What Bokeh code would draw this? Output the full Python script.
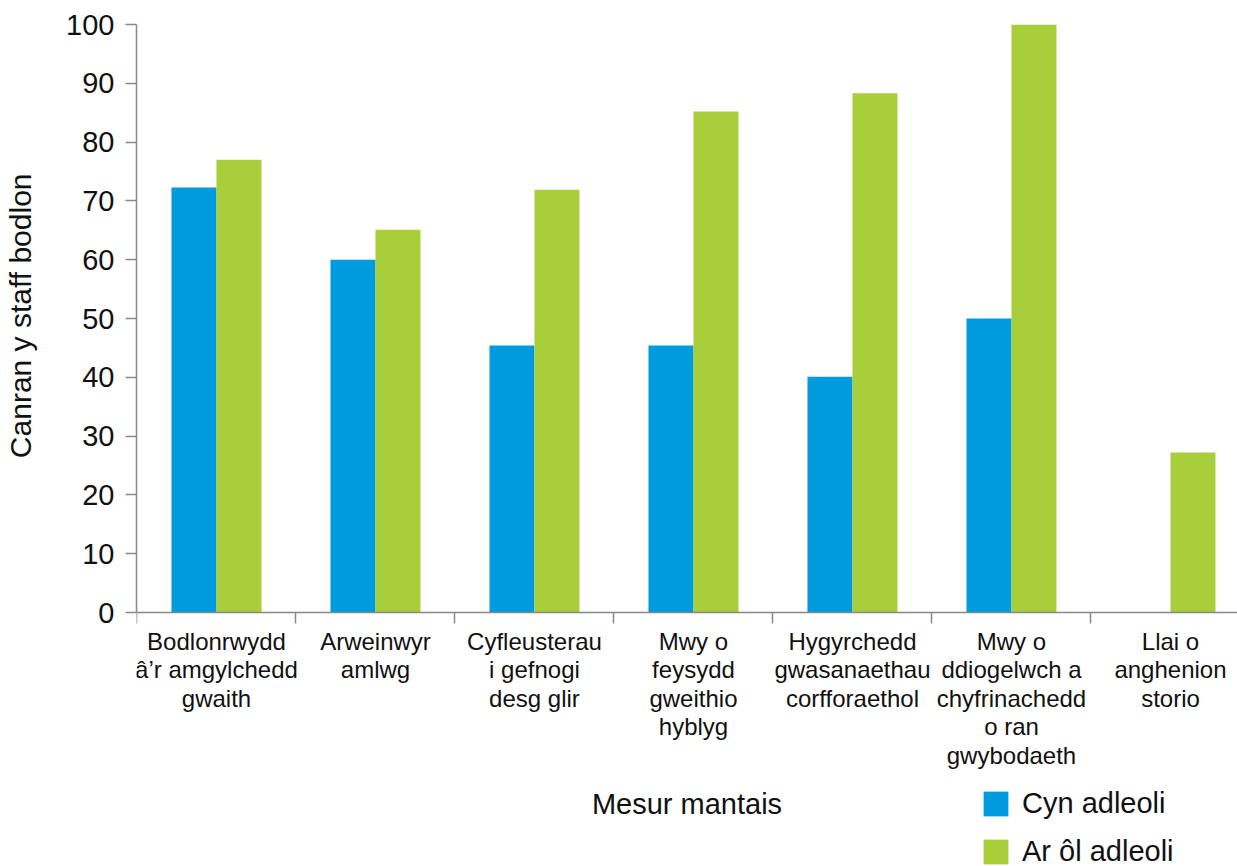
from bokeh.plotting import figure
from bokeh.models import Range1d, FixedTicker, Legend, LegendItem, Title
from bokeh.embed import file_html
from bokeh.resources import INLINE

categories = [
    "Bodlonrwydd\nâ’r amgylchedd\ngwaith",
    "Arweinwyr\namlwg",
    "Cyfleusterau\ni gefnogi\ndesg glir",
    "Mwy o\nfeysydd\ngweithio\nhyblyg",
    "Hygyrchedd\ngwasanaethau\ncorfforaethol",
    "Mwy o\nddiogelwch a\nchyfrinachedd\no ran\ngwybodaeth",
    "Llai o\nanghenion\nstorio",
]
before = [72.3, 60.0, 45.4, 45.4, 40.1, 50.0, 0.0]
after = [77.0, 65.1, 71.9, 85.2, 88.3, 100.0, 27.2]
series_names = ["Cyn adleoli", "Ar ôl adleoli"]
y_ticks = [0, 10, 20, 30, 40, 50, 60, 70, 80, 90, 100]
y_title = "Canran y staff bodlon"
x_title = "Mesur mantais"

BLUE = "#009ADE"
GREEN = "#A8CE3A"
FONT = "Liberation Sans"
GREY = "#888888"
INK = "#111111"

# layout (pixels)
W, H = 1237, 866
LEFT, TOP = 136, 24
ZERO_Y = 612          # pixel row of value 0
CAT_W = 159           # pixel width of one category
y_top = 100
y_bottom = y_top - y_top * (H - TOP) / (ZERO_Y - TOP)
x_end = (W - LEFT) / CAT_W

n = len(categories)
centers = [i + 0.503 for i in range(n)]
bw = 0.283

p = figure(width=W, height=H, output_backend="svg", toolbar_location=None,
           x_range=Range1d(0, x_end), y_range=Range1d(y_bottom, y_top),
           min_border_left=LEFT, min_border_right=0, min_border_top=TOP, min_border_bottom=0)
p.outline_line_color = None
p.xgrid.visible = False
p.ygrid.visible = False

r1 = p.vbar(x=[c - bw / 2 for c in centers], top=before, bottom=0, width=bw, color=BLUE, line_color=None)
r2 = p.vbar(x=[c + bw / 2 for c in centers], top=after, bottom=0, width=bw, color=GREEN, line_color=None)

# x axis
xa = p.xaxis[0]
xa.fixed_location = 0
xa.ticker = FixedTicker(ticks=centers, minor_ticks=list(range(n + 1)))
xa.major_label_overrides = {c: lab for c, lab in zip(centers, categories)}
xa.major_tick_out = 0
xa.major_tick_in = 0
xa.minor_tick_out = 11
xa.minor_tick_in = 0
xa.minor_tick_line_color = GREY
xa.minor_tick_line_width = 1.5
xa.axis_line_color = GREY
xa.axis_line_width = 1.5
xa.major_label_text_font = FONT
xa.major_label_text_font_size = "24px"
xa.major_label_text_line_height = 1.06
xa.major_label_text_color = INK
xa.major_label_standoff = 4
xa.axis_label = x_title
xa.axis_label_text_font = FONT
xa.axis_label_text_font_size = "29px"
xa.axis_label_text_font_style = "normal"
xa.axis_label_text_color = INK
xa.axis_label_standoff = 16

# y axis
ya = p.yaxis[0]
ya.bounds = (0, 100)
ya.ticker = FixedTicker(ticks=y_ticks, minor_ticks=[])
ya.major_tick_out = 11
ya.major_tick_in = 0
ya.major_tick_line_color = GREY
ya.major_tick_line_width = 1.5
ya.axis_line_color = GREY
ya.axis_line_width = 1.5
ya.major_label_text_font = FONT
ya.major_label_text_font_size = "29px"
ya.major_label_text_color = INK
ya.major_label_standoff = 11

# spacer between tick labels and the y title, then the title itself
p.add_layout(Title(text=" ", standoff=20, text_font_size="1px"), "left")
yt = Title(text=y_title, align="right", offset=149, vertical_align="top", standoff=4,
           text_font=FONT, text_font_size="30px", text_font_style="normal", text_color=INK)
p.add_layout(yt, "left")

legend = Legend(items=[LegendItem(label=series_names[0], renderers=[r1]),
                       LegendItem(label=series_names[1], renderers=[r2])],
                location=(844, -2), orientation="vertical",
                glyph_width=31, glyph_height=31, label_height=31, spacing=15,
                padding=0, margin=0, border_line_color=None, background_fill_alpha=0,
                label_text_font=FONT, label_text_font_size="29px", label_text_color=INK,
                label_standoff=11)
p.add_layout(legend, "center")

open("out.html", "w").write(file_html(p, INLINE))
